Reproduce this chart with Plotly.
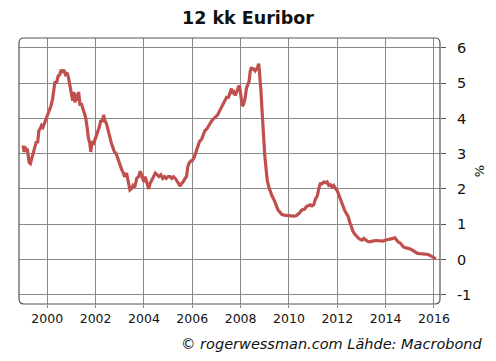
import plotly.graph_objects as go

years = [
1999.00,1999.04,1999.08,1999.12,1999.17,1999.21,1999.25,1999.30,1999.35,1999.42,1999.50,1999.55,1999.60,1999.65,1999.70,1999.76,1999.82,1999.88,1999.95,
2000.00,2000.08,2000.15,2000.22,2000.27,2000.32,2000.38,2000.45,2000.52,2000.58,2000.63,2000.68,2000.75,2000.82,2000.88,2000.94,
2001.00,2001.05,2001.10,2001.15,2001.20,2001.25,2001.30,2001.35,2001.42,2001.50,2001.58,2001.65,2001.70,2001.76,2001.80,2001.85,2001.92,
2002.00,2002.08,2002.15,2002.22,2002.28,2002.33,2002.38,2002.45,2002.52,2002.58,2002.65,2002.72,2002.78,2002.85,2002.92,
2003.00,2003.08,2003.15,2003.20,2003.28,2003.35,2003.42,2003.47,2003.55,2003.62,2003.70,2003.78,2003.85,2003.92,
2004.00,2004.05,2004.12,2004.20,2004.25,2004.32,2004.40,2004.47,2004.55,2004.62,2004.70,2004.78,2004.85,2004.92,
2005.00,2005.08,2005.15,2005.22,2005.30,2005.38,2005.45,2005.50,2005.55,2005.62,2005.70,2005.76,2005.82,2005.88,2005.95,
2006.00,2006.08,2006.15,2006.22,2006.30,2006.38,2006.45,2006.52,2006.60,2006.68,2006.75,2006.82,2006.90,2006.97,
2007.05,2007.12,2007.20,2007.28,2007.35,2007.42,2007.50,2007.58,2007.62,2007.66,2007.72,2007.78,2007.85,2007.92,2007.96,
2008.02,2008.07,2008.12,2008.18,2008.24,2008.30,2008.35,2008.40,2008.45,2008.50,2008.55,2008.60,2008.65,2008.70,2008.75,2008.80,2008.84,2008.88,2008.92,2008.96,
2009.00,2009.05,2009.10,2009.17,2009.22,2009.30,2009.38,2009.42,2009.48,2009.55,2009.62,2009.70,2009.80,2009.90,
2010.00,2010.10,2010.20,2010.30,2010.38,2010.45,2010.52,2010.58,2010.65,2010.72,2010.80,2010.88,2010.95,
2011.02,2011.10,2011.17,2011.25,2011.30,2011.38,2011.45,2011.52,2011.58,2011.65,2011.72,2011.78,2011.85,2011.92,
2012.00,2012.08,2012.15,2012.22,2012.30,2012.38,2012.45,2012.52,2012.58,2012.65,2012.72,2012.80,2012.88,2012.95,
2013.02,2013.10,2013.18,2013.25,2013.35,2013.42,2013.50,2013.60,2013.70,2013.80,2013.90,2013.97,
2014.05,2014.15,2014.25,2014.32,2014.38,2014.45,2014.52,2014.60,2014.68,2014.75,2014.85,2014.95,
2015.05,2015.12,2015.20,2015.30,2015.40,2015.50,2015.60,2015.70,2015.80,2015.88,2015.95,
2016.02,2016.08]

euribor = [
3.23,3.05,3.20,3.05,3.15,2.95,2.75,2.72,2.85,3.05,3.20,3.35,3.30,3.65,3.70,3.80,3.75,3.85,4.00,
4.05,4.20,4.35,4.55,4.90,5.05,5.00,5.20,5.25,5.38,5.30,5.38,5.25,5.30,5.15,4.90,
4.60,4.50,4.75,4.45,4.70,4.50,4.75,4.40,4.40,4.25,4.05,3.75,3.45,3.30,3.05,3.35,3.30,
3.45,3.60,3.75,3.95,3.90,4.10,3.95,3.85,3.60,3.50,3.30,3.15,3.05,3.00,2.85,
2.75,2.55,2.45,2.35,2.45,2.20,1.97,2.00,2.10,2.05,2.30,2.35,2.50,2.35,
2.20,2.35,2.15,2.00,2.15,2.25,2.40,2.45,2.40,2.35,2.40,2.30,2.35,2.30,
2.35,2.35,2.30,2.35,2.30,2.20,2.15,2.08,2.15,2.20,2.30,2.35,2.65,2.75,2.80,
2.80,2.90,3.05,3.25,3.35,3.40,3.55,3.65,3.70,3.80,3.85,3.95,4.00,4.05,
4.10,4.20,4.30,4.40,4.50,4.60,4.60,4.75,4.85,4.70,4.75,4.65,4.75,4.90,4.90,
4.60,4.35,4.40,4.55,4.85,4.95,5.05,5.35,5.45,5.40,5.40,5.35,5.40,5.45,5.55,5.20,4.80,4.30,3.80,3.30,
2.95,2.60,2.25,2.05,1.95,1.80,1.70,1.62,1.50,1.40,1.35,1.28,1.26,1.25,
1.24,1.24,1.23,1.24,1.28,1.33,1.40,1.42,1.43,1.50,1.52,1.55,1.52,
1.55,1.72,1.80,2.05,2.15,2.15,2.20,2.18,2.20,2.10,2.12,2.06,2.10,2.02,
1.95,1.80,1.65,1.50,1.40,1.30,1.22,1.05,0.90,0.80,0.72,0.65,0.60,0.57,
0.55,0.60,0.55,0.52,0.50,0.52,0.53,0.54,0.54,0.54,0.52,0.55,
0.56,0.57,0.58,0.60,0.62,0.55,0.50,0.47,0.40,0.35,0.33,0.32,
0.29,0.26,0.22,0.18,0.17,0.17,0.16,0.15,0.13,0.10,0.07,
0.05,0.02]

x_ticks = [2000, 2002, 2004, 2006, 2008, 2010, 2012, 2014, 2016]
y_ticks = [-1, 0, 1, 2, 3, 4, 5, 6]

FONT = "DejaVu Sans"

fig = go.Figure()
fig.add_trace(go.Scatter(x=years, y=euribor, mode="lines",
                         line=dict(color="#c0504d", width=3.2), hoverinfo="skip"))

W, H = 496, 361
L, R, T, B = 19, 53, 38, 57
pw, ph = W - L - R, H - T - B
rx, ry = 5 / pw, 5 / ph
path = (f"M {rx},0 L {1-rx},0 Q 1,0 1,{ry} L 1,{1-ry} Q 1,1 {1-rx},1 "
        f"L {rx},1 Q 0,1 0,{1-ry} L 0,{ry} Q 0,0 {rx},0 Z")
fig.add_shape(type="path", xref="paper", yref="paper", path=path,
              line=dict(color="#555555", width=1.2), layer="above")

fig.update_layout(
    width=W, height=H,
    margin=dict(l=L, r=R, t=T, b=B),
    paper_bgcolor="white", plot_bgcolor="white",
    showlegend=False,
    font=dict(family=FONT, color="#111111", size=13),
    title=dict(text="<b>12 kk Euribor</b>", x=0.5, xref="container",
               y=0.95, yref="container", yanchor="middle",
               font=dict(family=FONT, size=17.5, color="#111111")),
    xaxis=dict(range=[1998.83, 2016.25], tickvals=x_ticks,
               ticktext=[str(v) for v in x_ticks],
               showgrid=True, gridcolor="#8a8a8a", gridwidth=1,
               zeroline=False, showline=False,
               ticks="outside", ticklen=3, tickcolor="#8a8a8a",
               tickfont=dict(family=FONT, size=12.5, color="#111111")),
    yaxis=dict(range=[-1.26, 6.28], tickvals=y_ticks,
               ticktext=[str(v) for v in y_ticks], side="right",
               showgrid=True, gridcolor="#8a8a8a", gridwidth=1,
               zeroline=False, showline=False,
               ticks="outside", ticklen=5, tickcolor="#555555",
               ticklabelstandoff=8,
               tickfont=dict(family=FONT, size=14.5, color="#111111"),
               title=dict(text="%", standoff=4,
                          font=dict(family=FONT, size=13, color="#111111"))),
)

fig.add_annotation(text="<i>© rogerwessman.com Lähde: Macrobond</i>",
                   xref="paper", yref="paper", x=1 + 45 / pw, y=-(344 - T - ph) / ph,
                   xanchor="right", yanchor="middle", showarrow=False,
                   font=dict(family=FONT, size=14.5, color="#111111"))

fig.write_html("out.html")
